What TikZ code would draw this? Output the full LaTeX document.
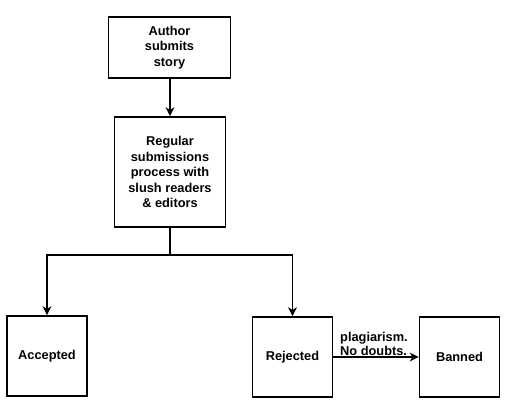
\documentclass[tikz,border=0pt]{standalone}
\usepackage{fontspec}
\setmainfont{Liberation Sans}
\usetikzlibrary{arrows.meta,positioning}
\tikzset{
  basebox/.style={rectangle,draw=black,line width=1.7pt,fill=white,
                  align=center,font=\fontsize{12.8}{15.5}\selectfont\bfseries,inner sep=2pt},
  topnode/.style={basebox,minimum width=122pt,minimum height=61pt},
  procnode/.style={basebox,minimum width=111pt,minimum height=110pt},
  endnode/.style={basebox,minimum width=80pt,minimum height=80pt},
  arr/.style={-{Stealth[length=9pt,width=9pt]},line width=1.7pt,color=black},
  lbl/.style={font=\fontsize{12.8}{13.5}\selectfont\bfseries,align=left,inner sep=1pt}
}
\begin{document}
\begin{tikzpicture}[x=1pt,y=-1pt]
  \useasboundingbox (0,0) rectangle (507,406);
  \node[topnode]  (author)   at (169.5,47.5) {Author\\submits\\story};
  \node[procnode] (regular)  at (170,172) {Regular\\submissions\\process with\\slush readers\\\& editors};
  \node[endnode]  (accepted) at (47,356) {Accepted};
  \node[endnode]  (rejected) at (292.5,357) {Rejected};
  \node[endnode]  (banned)   at (459.5,357) {Banned};
  \coordinate (split) at (170,255);

  \draw[arr] (author.south -| regular.north) -- (regular.north);
  \draw[line width=1.7pt] (regular) -- (split);
  \draw[arr] (split) -| (accepted.north);
  \draw[arr] (split) -| (rejected.north);
  \draw[arr] (rejected) -- node[lbl,above,xshift=-2pt]{plagiarism.\\No doubts.} (banned);
\end{tikzpicture}
\end{document}
